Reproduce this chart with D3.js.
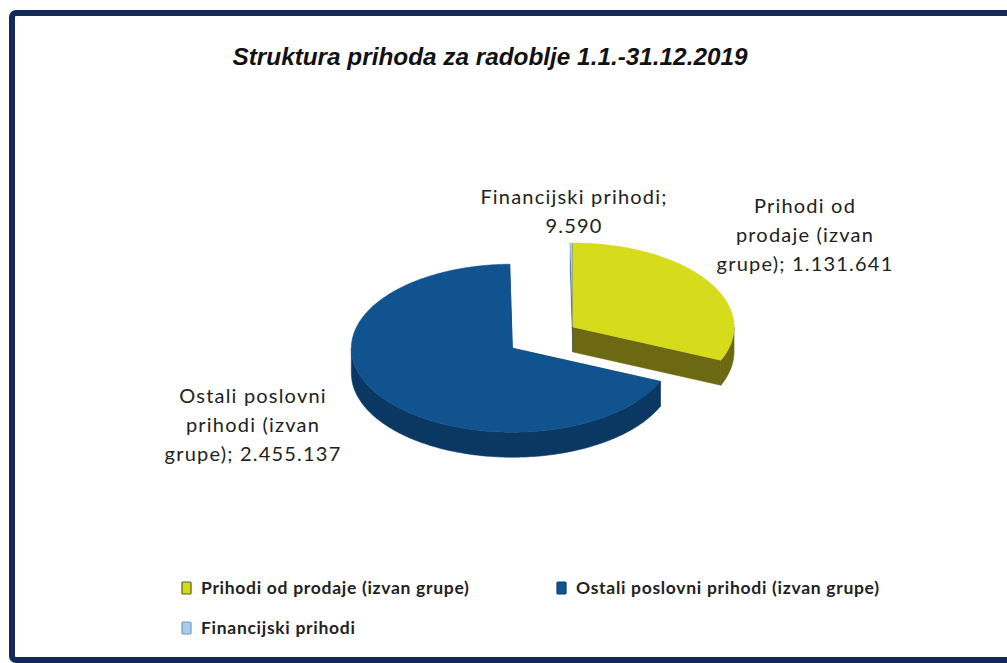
<!DOCTYPE html>
<html>
<head>
<meta charset="utf-8">
<script src="https://cdn.jsdelivr.net/npm/d3@7"></script>
<style>
  html, body { margin: 0; padding: 0; background: #ffffff; }
  svg { display: block; }
</style>
</head>
<body>
<svg id="chart" width="1007" height="663"></svg>
<script>
// ---------- data ----------
const title = "Struktura prihoda za radoblje 1.1.-31.12.2019";
const categories = ["Prihodi od prodaje (izvan grupe)", "Ostali poslovni prihodi (izvan grupe)", "Financijski prihodi"];
const values = [1131641, 2455137, 9590];
const labelLines = [
  ["Prihodi od", "prodaje (izvan", "grupe); {v}"],
  ["Ostali poslovni", "prihodi (izvan", "grupe); {v}"],
  ["Financijski prihodi;", "{v}"]
];
const colors = ["#D6DB1C", "#10538F", "#A9CDEB"];

// ---------- layout ----------
const W = 1007, H = 663;
const cx = 573, cy = 327, rx = 161, ry = 84, depth = 25;
const explode = [0, 73, 0];
const labelPos = [[805, 213], [253, 403], [574, 204]];
const lineGap = 29;

const svg = d3.select("#chart");
const fmt = d3.formatLocale({decimal: ",", thousands: ".", grouping: [3], currency: ["", ""]}).format(",d");

// frame
svg.append("rect")
  .attr("x", 12).attr("y", 13).attr("width", 1010).attr("height", 647)
  .attr("rx", 4)
  .attr("fill", "#ffffff")
  .attr("stroke", "#13295B").attr("stroke-width", 6);

// title
svg.append("text")
  .attr("x", 490).attr("y", 65)
  .attr("text-anchor", "middle")
  .attr("font-family", "'Liberation Sans', Arial, sans-serif")
  .attr("font-weight", "bold").attr("font-style", "italic")
  .attr("font-size", 23)
  .attr("textLength", 515).attr("lengthAdjust", "spacingAndGlyphs")
  .attr("fill", "#111")
  .text(title);

// ---------- 3D pie ----------
const data = categories.map((c, i) => ({name: c, value: values[i], color: colors[i], explode: explode[i], idx: i}));
const pie = d3.pie().sort(null).value(d => d.value).startAngle(0).endAngle(2 * Math.PI);
const arcs = pie(data);

function pt(c, a, dz = 0) { return [c[0] + rx * Math.sin(a), c[1] - ry * Math.cos(a) + dz]; }
function arcPts(c, a0, a1, dz = 0) {
  const n = Math.max(2, Math.ceil(Math.abs(a1 - a0) / (Math.PI / 180)));
  const out = [];
  for (let k = 0; k <= n; k++) out.push(pt(c, a0 + (a1 - a0) * k / n, dz));
  return out;
}
const line = d3.line();

arcs.forEach(a => {
  const mid = (a.startAngle + a.endAngle) / 2;
  const e = a.data.explode;
  a.c = [cx + e * Math.sin(mid), cy - e * (ry / rx) * Math.cos(mid)];
});

const order = arcs.slice().sort((p, q) => p.c[1] - q.c[1] || (q.data.idx - p.data.idx));
const g = svg.append("g");

order.forEach(a => {
  const c = a.c;
  const top = a.data.color;
  const side = a.data.idx === 0 ? "#6D6913" : (a.data.idx === 1 ? "#0B3763" : "#24528A");
  const sg = g.append("g");
  // radial faces
  [a.startAngle, a.endAngle].forEach(ang => {
    const p1 = pt(c, ang), p2 = pt(c, ang, depth);
    sg.append("path")
      .attr("d", line([c, p1, p2, [c[0], c[1] + depth]]) + "Z")
      .attr("fill", side).attr("stroke", side).attr("stroke-width", 0.6);
  });
  // outer wall (front-facing part)
  const s = Math.max(a.startAngle, Math.PI / 2), en = Math.min(a.endAngle, 3 * Math.PI / 2);
  if (en > s) {
    const topPts = arcPts(c, s, en);
    const botPts = arcPts(c, en, s, depth);
    sg.append("path")
      .attr("d", line(topPts.concat(botPts)) + "Z")
      .attr("fill", side).attr("stroke", side).attr("stroke-width", 0.6);
  }
  // top face
  sg.append("path")
    .attr("d", line([c].concat(arcPts(c, a.startAngle, a.endAngle))) + "Z")
    .attr("fill", top).attr("stroke", top).attr("stroke-width", 0.6);
});

// data labels
arcs.forEach((a, i) => {
  const lines = labelLines[i].map(l => l.replace("{v}", fmt(a.data.value)));
  const t = svg.append("text")
    .attr("text-anchor", "middle")
    .attr("font-family", "Lato, 'Open Sans', sans-serif")
    .attr("font-size", 20)
    .attr("letter-spacing", 1.2)
    .attr("fill", "#222");
  lines.forEach((l, k) => {
    t.append("tspan").attr("x", labelPos[i][0]).attr("y", labelPos[i][1] + k * lineGap).text(l);
  });
});

// legend
const legX = [182, 557], legY0 = 588, legDy = 40;
data.forEach((d, i) => {
  const col = i % 2, row = Math.floor(i / 2);
  const x = legX[col], y = legY0 + row * legDy;
  const lg = svg.append("g");
  lg.append("rect")
    .attr("x", x).attr("y", y - 6).attr("width", 9).attr("height", 12).attr("rx", 1)
    .attr("fill", d.color)
    .attr("stroke", i === 0 ? "#5E5A10" : (i === 1 ? "#0C3E70" : "#6F9CC4")).attr("stroke-width", 1.2);
  lg.append("text")
    .attr("x", x + 19).attr("y", y + 6)
    .attr("font-family", "Lato, 'Open Sans', sans-serif")
    .attr("font-weight", "bold")
    .attr("font-size", 17.5)
    .attr("letter-spacing", 0.7)
    .attr("fill", "#222")
    .text(d.name);
});
</script>
</body>
</html>
